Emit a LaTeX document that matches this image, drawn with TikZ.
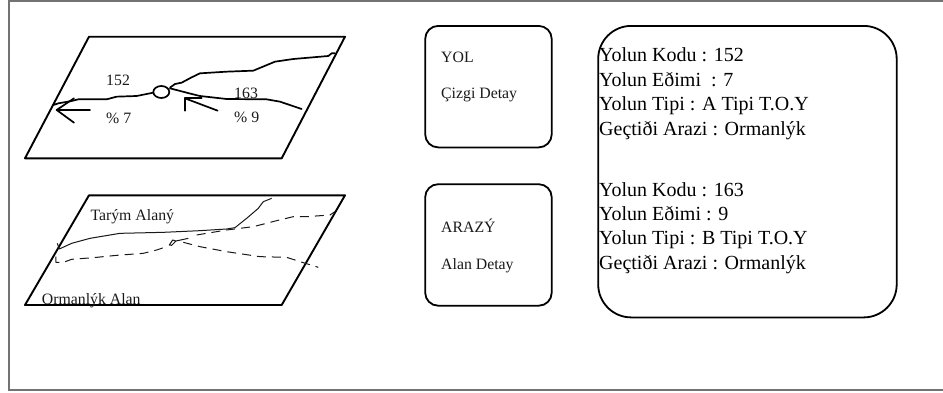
\documentclass[tikz,border=0pt]{standalone}
\usepackage{fontspec}
\setmainfont{Liberation Serif}
\newcommand{\bigfont}{\fontsize{20}{24}\selectfont}
\newcommand{\smallfont}{\fontsize{15.8}{18}\selectfont}
\tikzset{
  frameline/.style={draw=black!55,line width=1.8pt},
  plate/.style={draw=black,line width=1.9pt,line join=round},
  road/.style={draw=black,line width=1.7pt,line join=round,line cap=round},
  thinroad/.style={draw=black!90,line width=1pt,line join=round},
  dashroad/.style={thinroad,dash pattern=on 9pt off 6pt},
  bigtxt/.style={anchor=base west,inner sep=0pt,font=\bigfont,text=black},
  smalltxt/.style={anchor=base west,inner sep=0pt,font=\smallfont,text=black!90},
  smallbox/.style={draw=black,line width=1.8pt,rounded corners=13pt,minimum width=126.5pt,minimum height=121.5pt,inner sep=0pt,anchor=north west},
  bigbox/.style={draw=black,line width=1.8pt,rounded corners=33pt,minimum width=298.5pt,minimum height=291.5pt,inner sep=0pt,anchor=north west}
}
\begin{document}
\begin{tikzpicture}[x=1pt,y=-1pt]
\useasboundingbox (0,0) rectangle (943,392);
% frame, open towards the right edge
\draw[frameline] (943,0.8) -- (9,0.8) -- (9,390) -- (943,390);
% upper plate
\draw[plate] (89,36.7) -- (345,36.7) -- (281.7,158.3) -- (25,158.3) -- cycle;
% lower plate
\draw[plate] (89,195.3) -- (345,195.3) -- (281.7,305) -- (25,305) -- cycle;
% upper plate roads, in the 3x coordinates of the upper crop
\begin{scope}[shift={(0,20)},x=0.3333pt,y=-0.3333pt]
  \draw[road] (160,255) -- (175,250) -- (215,243) -- (235,238) -- (320,238) -- (350,230) -- (410,228) -- (460,218);
  \draw[road] (510,203) -- (525,192) -- (545,188) -- (575,172) -- (600,160) -- (680,155) -- (760,152) -- (825,125) -- (880,117) -- (985,108) -- (995,100) -- (1005,100);
  \draw[road] (510,205) -- (560,218) -- (600,228) -- (680,237) -- (800,238) -- (840,245) -- (905,267);
  \draw[draw=black,line width=1.7pt] (484,216) ellipse [x radius=24,y radius=18];
  \draw[road] (270,270) -- (170,270);
  \draw[road] (222,235) -- (170,270) -- (222,308);
  \draw[road] (653,272) -- (555,235);
  \draw[road] (605,235) -- (555,235) -- (555,272);
\end{scope}
% lower plate roads
\begin{scope}[shift={(0,180)},x=0.3333pt,y=-0.3333pt]
  \draw[thinroad] (172,190) -- (178,207) -- (215,190) -- (270,175) -- (360,160) -- (490,157) -- (600,152) -- (680,147) -- (705,143) -- (740,115) -- (775,85) -- (790,65) -- (815,55);
  \draw[dashroad] (168,230) -- (168,247) -- (190,247) -- (215,238) -- (280,233) -- (350,226) -- (430,220) -- (470,210) -- (500,200);
  \draw[thinroad] (508,195) -- (518,180) -- (528,183) -- (515,196) -- cycle;
  \draw[thinroad] (528,183) -- (565,175);
  \draw[dashroad] (590,165) -- (680,150) -- (760,140) -- (830,122) -- (880,110) -- (920,110) -- (990,105) -- (1005,95);
  \draw[dashroad] (550,187) -- (600,200) -- (680,215) -- (780,230) -- (860,232) -- (910,248) -- (955,262);
\end{scope}
% plate labels
\node[smalltxt] (l152) at (106,85.7) {152};
\node[smalltxt] (l7) at (106,123) {\% 7};
\node[smalltxt] (l163) at (234,98) {163};
\node[smalltxt] (l9) at (234,122.7) {\% 9};
\node[smalltxt] (tarim) at (90.3,220.7) {Tarým Alaný};
\node[smalltxt] (orman) at (41.7,304) {Ormanlýk Alan};
% boxes
\node[smallbox] (yolbox) at (424.3,25) {};
\node[smallbox] (arazibox) at (424.3,183.3) {};
\node[bigbox] (infobox) at (597.3,25) {};
\node[smalltxt] (yol) at (441,62.3) {YOL};
\node[smalltxt] (cizgi) at (441,98) {Çizgi Detay};
\node[smalltxt] (arazi) at (441,232) {ARAZÝ};
\node[smalltxt] (alan) at (441,269) {Alan Detay};
% info text
\node[bigtxt] (a1) at (599,61.7) {Yolun Kodu : 152};
\node[bigtxt] (a2) at (599,86.2) {Yolun Eðimi\ \ : 7};
\node[bigtxt] (a3) at (599,110) {Yolun Tipi : A Tipi T.O.Y};
\node[bigtxt] (a4) at (599,135) {Geçtiði Arazi : Ormanlýk};
\node[bigtxt] (b1) at (599,196) {Yolun Kodu : 163};
\node[bigtxt] (b2) at (599,220) {Yolun Eðimi : 9};
\node[bigtxt] (b3) at (599,244) {Yolun Tipi : B Tipi T.O.Y};
\node[bigtxt] (b4) at (599,269) {Geçtiði Arazi : Ormanlýk};
\end{tikzpicture}
\end{document}
